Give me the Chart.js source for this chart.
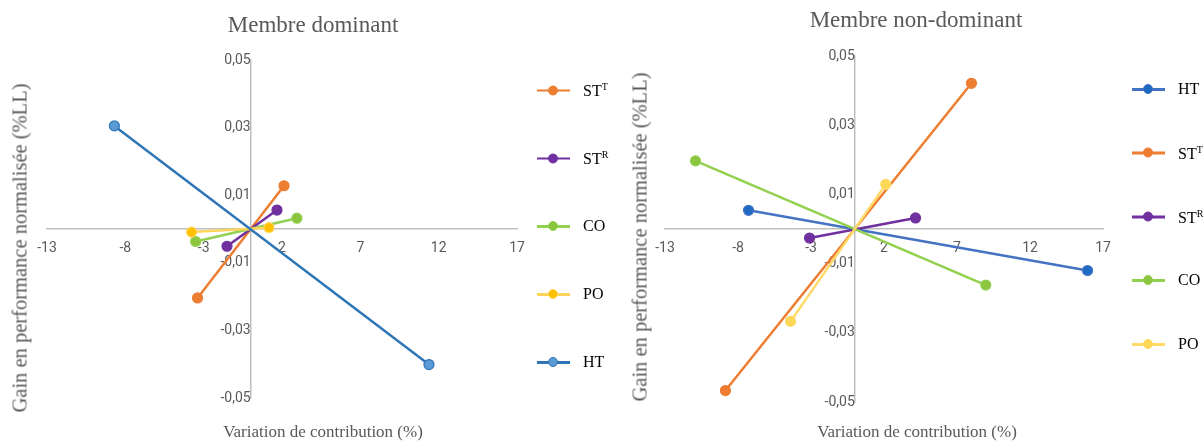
<!DOCTYPE html>
<html lang="fr">
<head>
  <meta charset="UTF-8" />
  <title>Gain en performance / variation de contribution</title>
  <script src="https://cdn.jsdelivr.net/npm/chart.js"></script>
  <style>
    body { margin: 0; background: white; }
    .wrap { position: relative; width: 1203px; height: 441px; overflow: hidden; font-family: "Liberation Serif", "Times New Roman", serif; }
    canvas { position: absolute; top: 0; }
    .txt { position: absolute; color: #595959; white-space: nowrap; }
    .title { font-size: 23px; transform: translate(-50%, -50%); }
    .xtitle { font-size: 17px; transform: translate(-50%, -50%); }
    .ytitle { font-size: 20.5px; transform: translate(-50%, -50%) rotate(-90deg); }
    .leg { position: absolute; display: flex; align-items: center; font-size: 16px; color: #000; transform: translateY(-50%); }
    .leg sup { font-size: 10px; vertical-align: 6px; }
    .swatch { position: relative; width: 33px; height: 12px; margin-right: 13px; }
    .swatch .ln { position: absolute; left: 0; right: 0; top: 5px; height: 2.5px; }
    .swatch .dot { position: absolute; left: 11px; top: 1px; width: 10px; height: 10px; border-radius: 50%; box-sizing: border-box; }
  </style>
</head>
<body>
  <div class="wrap" id="wrap">
    <canvas id="dom" width="600" height="441" style="left:0"></canvas>
    <canvas id="nondom" width="603" height="441" style="left:600px"></canvas>

    <div class="txt title" style="left:313px; top:25px">Membre dominant</div>
    <div class="txt title" style="left:916px; top:20px">Membre non-dominant</div>
    <div class="txt xtitle" style="left:323px; top:432px">Variation de contribution (%)</div>
    <div class="txt xtitle" style="left:917px; top:432px">Variation de contribution (%)</div>
    <div class="txt ytitle" style="left:20px; top:248px">Gain en performance normalisée (%LL)</div>
    <div class="txt ytitle" style="left:640px; top:237px">Gain en performance normalisée (%LL)</div>
  </div>

  <script>
    // Membre dominant : deux extrémités par série (la droite passe par l'origine)
    const domLabels = ['ST<sup>T</sup>', 'ST<sup>R</sup>', 'CO', 'PO', 'HT'];
    const domX1 = [-3.39, -1.51, -3.51, -3.77, -8.70];
    const domY1 = [-0.0204, -0.0051, -0.0037, -0.0009, 0.0305];
    const domX2 = [2.13, 1.68, 2.95, 1.17, 11.38];
    const domY2 = [0.0128, 0.0056, 0.0032, 0.0004, -0.0401];
    const domLine = ['#ED7D31', '#7030A0', '#92D050', '#FFD45A', '#2E75B6'];
    const domDot = ['#ED7D31', '#7030A0', '#8CC63F', '#FFC000', '#5B9BD5'];

    // Membre non-dominant
    const ndLabels = ['HT', 'ST<sup>T</sup>', 'ST<sup>R</sup>', 'CO', 'PO'];
    const ndX1 = [-7.28, -8.86, -3.10, -10.91, -4.40];
    const ndY1 = [0.0054, -0.0467, -0.0026, 0.0197, -0.0267];
    const ndX2 = [15.94, 7.99, 4.16, 8.97, 2.12];
    const ndY2 = [-0.0120, 0.0421, 0.0032, -0.0162, 0.0129];
    const ndLine = ['#4472C4', '#ED7D31', '#7030A0', '#92D050', '#FFD966'];
    const ndDot = ['#1F6BC4', '#ED7D31', '#7030A0', '#8CC63F', '#FFD757'];

    const xMin = -13, xMax = 17, xStep = 5;
    const yMin = -0.05, yMax = 0.05, yStep = 0.02;

    const tickFont = { family: 'Roboto', size: 14 };

    function makeChart(id, labels, x1, y1, x2, y2, lineCols, dotCols, pad) {
      const datasets = labels.map((lab, i) => ({
        label: lab.replace(/<[^>]+>/g, ''),
        data: [{ x: x1[i], y: y1[i] }, { x: x2[i], y: y2[i] }],
        showLine: true,
        borderColor: lineCols[i],
        borderWidth: 2.5,
        pointRadius: 5,
        pointBackgroundColor: dotCols[i],
        pointBorderColor: lineCols[i],
        pointBorderWidth: 1.2,
        order: labels.length - i // later series on top, like Excel
      }));

      return new Chart(document.getElementById(id), {
        type: 'scatter',
        data: { datasets },
        options: {
          responsive: false,
          animation: false,
          layout: { padding: pad },
          plugins: { legend: { display: false }, tooltip: { enabled: false } },
          scales: {
            x: {
              type: 'linear', position: { y: 0 }, min: xMin, max: xMax,
              ticks: { stepSize: xStep, padding: 11, color: '#595959', font: tickFont, maxRotation: 0 },
              grid: { display: false, drawTicks: false },
              border: { display: true, color: '#BFBFBF', width: 1.5 }
            },
            y: {
              type: 'linear', position: { x: 0 }, min: yMin, max: yMax,
              ticks: {
                stepSize: yStep, padding: 12, color: '#595959', font: tickFont,
                callback: v => v.toFixed(2).replace('.', ',')
              },
              grid: { display: false, drawTicks: false },
              border: { display: true, color: '#BFBFBF', width: 1.5 }
            }
          }
        }
      });
    }

    function makeLegend(left, top, gap, labels, lineCols, dotCols) {
      const wrap = document.getElementById('wrap');
      labels.forEach((lab, i) => {
        const d = document.createElement('div');
        d.className = 'leg';
        d.style.left = left + 'px';
        d.style.top = (top + i * gap) + 'px';
        d.innerHTML = '<span class="swatch"><span class="ln" style="background:' + lineCols[i] + '"></span>' +
          '<span class="dot" style="background:' + dotCols[i] + ';border:1.2px solid ' + lineCols[i] + '"></span></span>' +
          '<span>' + lab + '</span>';
        wrap.appendChild(d);
      });
    }

    makeChart('dom', domLabels, domX1, domY1, domX2, domY2, domLine, domDot,
      { left: 47, right: 83, top: 60, bottom: 43 });
    makeChart('nondom', ndLabels, ndX1, ndY1, ndX2, ndY2, ndLine, ndDot,
      { left: 65, right: 100, top: 56, bottom: 39 });

    makeLegend(537, 90, 68, domLabels, domLine, domDot);
    makeLegend(1132, 89, 63.8, ndLabels, ndLine, ndDot);
  </script>
</body>
</html>
